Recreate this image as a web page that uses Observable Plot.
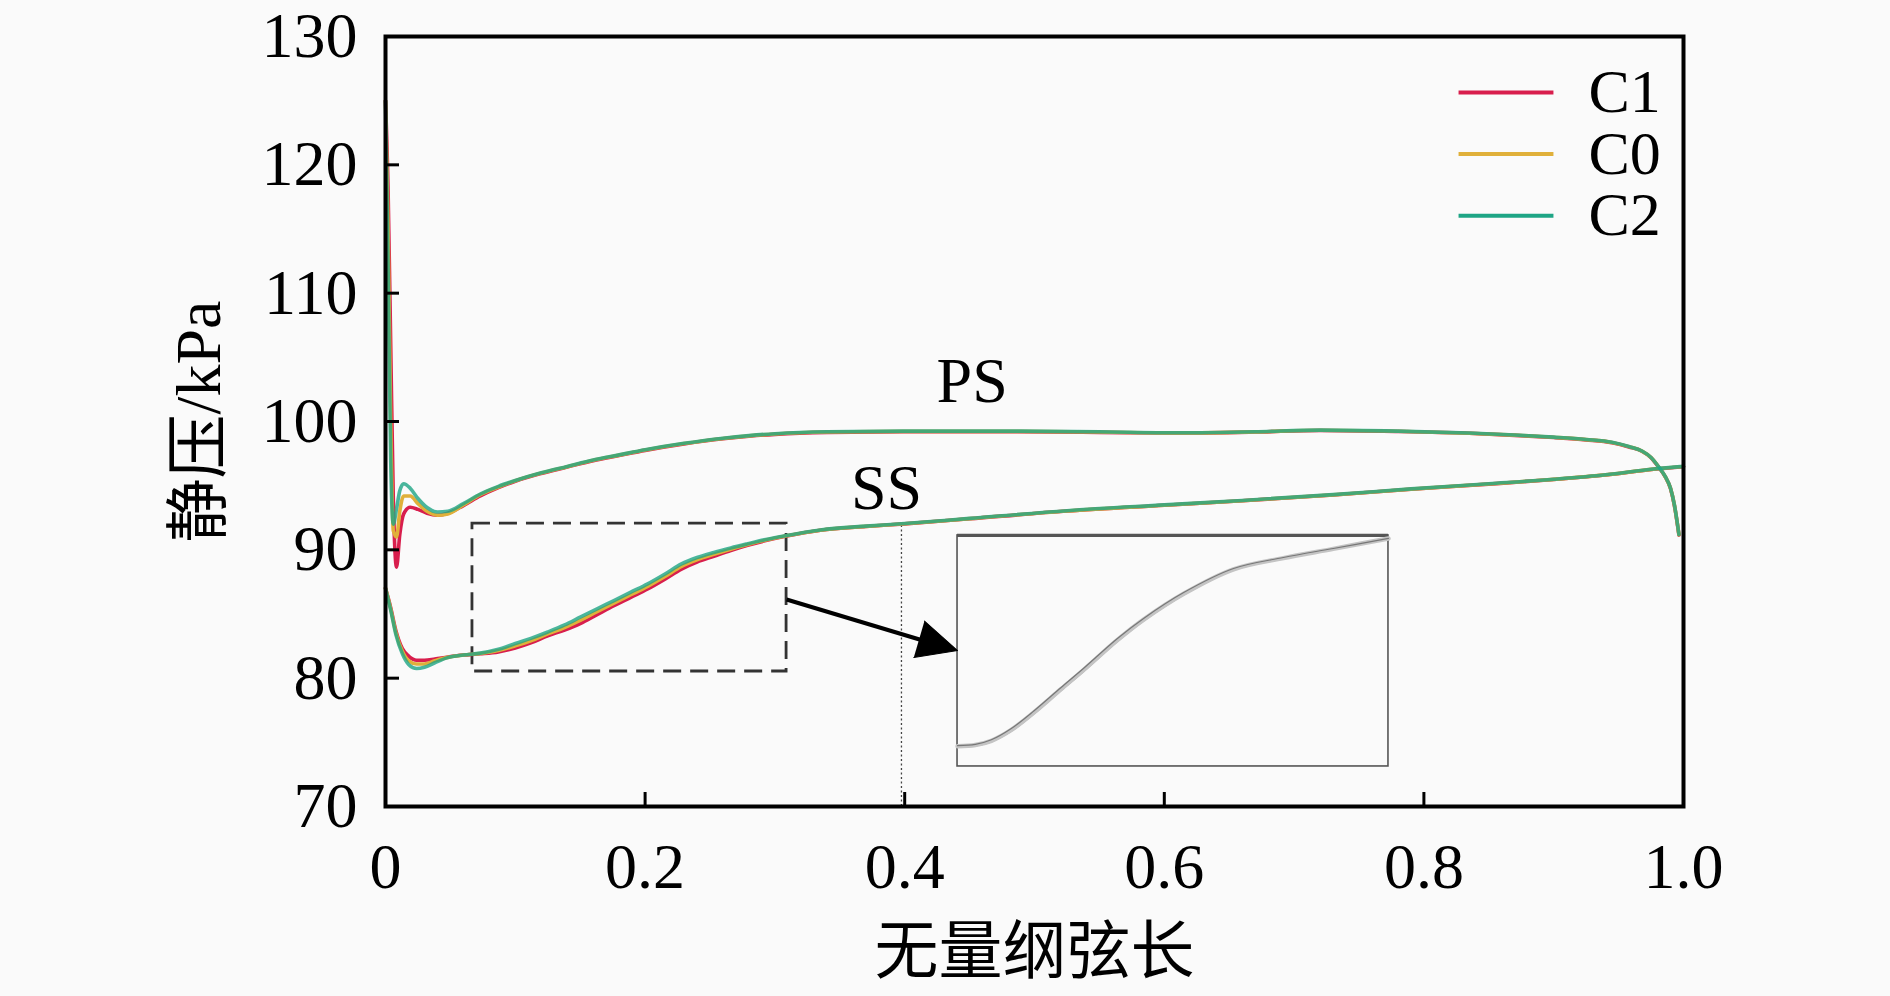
<!DOCTYPE html>
<html>
<head>
<meta charset="utf-8">
<script src="https://cdn.jsdelivr.net/npm/d3@7"></script>
<script src="https://cdn.jsdelivr.net/npm/@observablehq/plot@0.6"></script>
<style>
  html, body { margin: 0; padding: 0; background: #fafafa; }
  #chart { width: 1890px; height: 996px; }
</style>
</head>
<body>
<div id="chart"></div>
<script>
// ---------------- data ----------------
const seriesNames  = ["C1", "C0", "C2"];
const seriesColors = ["#d81e4d", "#e0b03a", "#1ea585"];

const xTicks = [0, 0.2, 0.4, 0.6, 0.8, 1.0];
const xTickLabels = ["0", "0.2", "0.4", "0.6", "0.8", "1.0"];
const yTicks = [70, 80, 90, 100, 110, 120, 130];

// pressure side (PS)
const psX  = [0, 0.002, 0.004, 0.006, 0.0085, 0.011, 0.014, 0.019, 0.025, 0.032, 0.04, 0.048, 0.06, 0.073, 0.087, 0.1, 0.12, 0.14, 0.16, 0.18, 0.2, 0.23, 0.26, 0.28, 0.3, 0.34, 0.4, 0.48, 0.55, 0.61, 0.67, 0.72, 0.78, 0.835, 0.87, 0.9, 0.925, 0.945, 0.958, 0.968, 0.975, 0.981, 0.986, 0.99, 0.993, 0.9965];
const psC1 = [125, 118, 106, 94, 88.65, 91.2, 92.8, 93.32, 93.15, 92.85, 92.7, 92.85, 93.45, 94.2, 94.85, 95.35, 95.95, 96.45, 96.95, 97.35, 97.75, 98.25, 98.65, 98.85, 99, 99.15, 99.2, 99.2, 99.15, 99.1, 99.18, 99.3, 99.22, 99.08, 98.92, 98.75, 98.57, 98.35, 98.02, 97.68, 97.18, 96.42, 95.68, 94.78, 93.45, 91.15];
const psC0 = [125, 115, 100, 91.5, 91.0, 93.0, 94.2, 94.2, 93.6, 93.0, 92.7, 92.8, 93.5, 94.3, 94.9, 95.38, 95.98, 96.48, 96.98, 97.38, 97.78, 98.28, 98.68, 98.88, 99.03, 99.18, 99.23, 99.23, 99.18, 99.11, 99.19, 99.32, 99.24, 99.09, 98.94, 98.77, 98.59, 98.37, 98.04, 97.69, 97.19, 96.44, 95.69, 94.79, 93.48, 91.18];
const psC2 = [125, 112, 97, 92, 93.2, 94.6, 95.15, 94.8, 94, 93.3, 92.95, 93, 93.6, 94.35, 94.95, 95.4, 96, 96.5, 97, 97.4, 97.8, 98.3, 98.7, 98.9, 99.05, 99.2, 99.25, 99.25, 99.2, 99.12, 99.2, 99.33, 99.25, 99.1, 98.95, 98.78, 98.6, 98.38, 98.05, 97.7, 97.2, 96.45, 95.7, 94.8, 93.5, 91.2];

// suction side (SS)
const ssX  = [0, 0.004, 0.008, 0.013, 0.018, 0.024, 0.03, 0.038, 0.048, 0.06, 0.073, 0.087, 0.1, 0.112, 0.125, 0.138, 0.15, 0.163, 0.176, 0.189, 0.202, 0.215, 0.228, 0.24, 0.253, 0.266, 0.279, 0.293, 0.308, 0.335, 0.37, 0.4, 0.45, 0.525, 0.6, 0.66, 0.73, 0.79, 0.85, 0.9, 0.94, 0.977, 1.0];
const ssC1 = [87, 85.5, 83.7, 82.3, 81.7, 81.4, 81.4, 81.5, 81.65, 81.8, 81.9, 82.05, 82.35, 82.75, 83.3, 83.75, 84.25, 84.95, 85.65, 86.3, 86.95, 87.7, 88.5, 89.05, 89.5, 89.95, 90.35, 90.72, 91.05, 91.52, 91.82, 92.02, 92.42, 93.02, 93.47, 93.82, 94.27, 94.72, 95.12, 95.48, 95.83, 96.28, 96.48];
const ssC0 = [87, 85.4, 83.55, 82.1, 81.35, 81.1, 81.1, 81.35, 81.62, 81.8, 81.92, 82.15, 82.52, 82.92, 83.45, 83.95, 84.5, 85.18, 85.85, 86.5, 87.15, 87.9, 88.7, 89.22, 89.65, 90.05, 90.41, 90.76, 91.08, 91.53, 91.83, 92.03, 92.43, 93.03, 93.48, 93.83, 94.28, 94.73, 95.13, 95.49, 95.84, 96.29, 96.49];
const ssC2 = [87, 85.3, 83.4, 81.9, 81.05, 80.75, 80.85, 81.2, 81.6, 81.8, 81.95, 82.25, 82.7, 83.1, 83.6, 84.15, 84.75, 85.4, 86.05, 86.7, 87.35, 88.1, 88.9, 89.4, 89.8, 90.15, 90.47, 90.8, 91.1, 91.55, 91.85, 92.05, 92.45, 93.05, 93.5, 93.85, 94.3, 94.75, 95.15, 95.5, 95.85, 96.3, 96.5];

// inset (enlarged view of the dashed region), values in chord / kPa units
const insetX  = [0.067, 0.077, 0.086, 0.097, 0.11, 0.125, 0.1377, 0.1568, 0.1715, 0.194, 0.222, 0.25, 0.278, 0.309];
const insetC1 = [81.5, 81.55, 81.75, 82.26, 83.15, 84.3, 85.25, 86.75, 87.78, 89.08, 90.32, 90.9, 91.37, 91.9];
const insetC0 = [81.53, 81.59, 81.8, 82.33, 83.22, 84.37, 85.33, 86.83, 87.85, 89.14, 90.36, 90.92, 91.38, 91.9];
const insetC2 = [81.56, 81.62, 81.85, 82.4, 83.3, 84.45, 85.41, 86.91, 87.91, 89.2, 90.4, 90.95, 91.4, 91.9];

// ---------------- layout ----------------
const W = 1890, H = 996, ML = 385, MR = 207, MT = 36, MB = 190;
const frameW = W - ML - MR, frameH = H - MT - MB;
const FONT = "'Liberation Serif','Times New Roman','Noto Sans CJK SC',serif";

const psValues = [psC1, psC0, psC2];
const ssValues = [ssC1, ssC0, ssC2];
const insetValues = [insetC1, insetC0, insetC2];

// zoom region (dashed) and inset box, in data units
const zoomRect = {x1: 0.067, x2: 0.309, y1: 80.52, y2: 92.05};
const insetBox = {x1: 0.4407, x2: 0.7727, y1: 73.12, y2: 91.12};
const toInsetX = x => insetBox.x1 + (x - zoomRect.x1) / (zoomRect.x2 - zoomRect.x1) * (insetBox.x2 - insetBox.x1);
const toInsetY = v => insetBox.y1 + (v - zoomRect.y1) / (zoomRect.y2 - zoomRect.y1) * (insetBox.y2 - insetBox.y1);

const lineMarks = [];
seriesNames.forEach((name, i) => {
  const ps = psX.map((x, j) => ({x, v: psValues[i][j]}));
  const ss = ssX.map((x, j) => ({x, v: ssValues[i][j]}));
  const opts = {x: "x", y: "v", stroke: seriesColors[i], strokeWidth: 3.6, curve: "monotone-x",
                strokeOpacity: name === "C2" ? 0.8 : 1};
  lineMarks.push(Plot.line(ps, opts), Plot.line(ss, opts));
});

const insetMarks = [];
seriesNames.forEach((name, i) => {
  const d = insetX.map((x, j) => ({x: toInsetX(x), v: toInsetY(insetValues[i][j])}));
  insetMarks.push(Plot.line(d, {x: "x", y: "v", curve: "catmull-rom",
    stroke: name === "C0" ? "#c4c4c4" : "#777", strokeWidth: name === "C0" ? 4.5 : 1.2}));
});

const legendY = seriesNames.map((_, i) => 125.64 - i * 4.8);

const chart = Plot.plot({
  width: W, height: H,
  marginLeft: ML, marginRight: MR, marginTop: MT, marginBottom: MB,
  x: {domain: [0, 1]},
  y: {domain: [70, 130]},
  style: {background: "#fafafa", fontFamily: FONT, fontSize: "64px", color: "black"},
  marks: [
    // dashed zoom region
    Plot.rect([zoomRect], {x1: "x1", x2: "x2", y1: "y1", y2: "y2", fill: "none",
      stroke: "#333", strokeWidth: 2.8, strokeDasharray: "18,9"}),
    // dotted vertical guide
    Plot.ruleX([0.3975], {y1: 70, y2: 92.1, stroke: "#444", strokeWidth: 1.3, strokeDasharray: "2,2.5"}),
    ...lineMarks,
    // inset
    Plot.rect([insetBox], {x1: "x1", x2: "x2", y1: "y1", y2: "y2", fill: "#fafafa",
      stroke: "#555", strokeWidth: 1.6}),
    Plot.ruleY([insetBox.y2], {x1: insetBox.x1, x2: insetBox.x2, stroke: "#555", strokeWidth: 3.2}),
    ...insetMarks,
    // arrow
    Plot.link([{x1: zoomRect.x2, y1: 86.13, x2: 0.43, y2: 82.45}], {x1: "x1", y1: "y1", x2: "x2", y2: "y2",
      stroke: "black", strokeWidth: 4}),
    Plot.vector([{x: insetBox.x1, y: 82.15}], {x: "x", y: "y", anchor: "end", shape: "spike",
      length: 40, r: 19, rotate: 106.3, fill: "black", stroke: "black", strokeWidth: 1}),
    // annotations
    Plot.text([{t: "PS", x: 0.452, y: 103.1}, {t: "SS", x: 0.386, y: 94.78}], {x: "x", y: "y", text: "t",
      fontSize: 64, lineAnchor: "middle", textAnchor: "middle", fill: "black"}),
    // legend
    Plot.link(seriesNames, {x1: 0.8267, x2: 0.8998, y1: (d, i) => legendY[i], y2: (d, i) => legendY[i],
      stroke: (d, i) => seriesColors[i], strokeWidth: 4}),
    Plot.text(seriesNames, {x: 0.9268, y: (d, i) => legendY[i], text: d => d, textAnchor: "start",
      lineAnchor: "middle", fontSize: 62, fill: "black"}),
    // inward ticks
    Plot.tickX(xTicks, {x: d => d, insetTop: frameH - 14, stroke: "black", strokeWidth: 3}),
    Plot.tickY(yTicks, {y: d => d, insetRight: frameW - 14, stroke: "black", strokeWidth: 3}),
    // axes labels
    Plot.axisX({ticks: xTicks, tickFormat: d => xTickLabels[xTicks.indexOf(d)], tickSize: 0, tickPadding: 36,
      label: null, fontSize: 64}),
    Plot.axisY({ticks: yTicks, tickSize: 0, tickPadding: 28, label: null, fontSize: 64}),
    Plot.frame({stroke: "black", strokeWidth: 4}),
    // axis titles
    Plot.text(["静压/kPa"], {frameAnchor: "left", dx: -186, rotate: -90, text: d => d,
      lineAnchor: "middle", textAnchor: "middle", fontSize: 64, fill: "black"}),
    Plot.text(["无量纲弦长"], {frameAnchor: "bottom", dy: 146, text: d => d,
      lineAnchor: "middle", textAnchor: "middle", fontSize: 64, fill: "black"})
  ]
});
document.getElementById("chart").appendChild(chart);
</script>
</body>
</html>
